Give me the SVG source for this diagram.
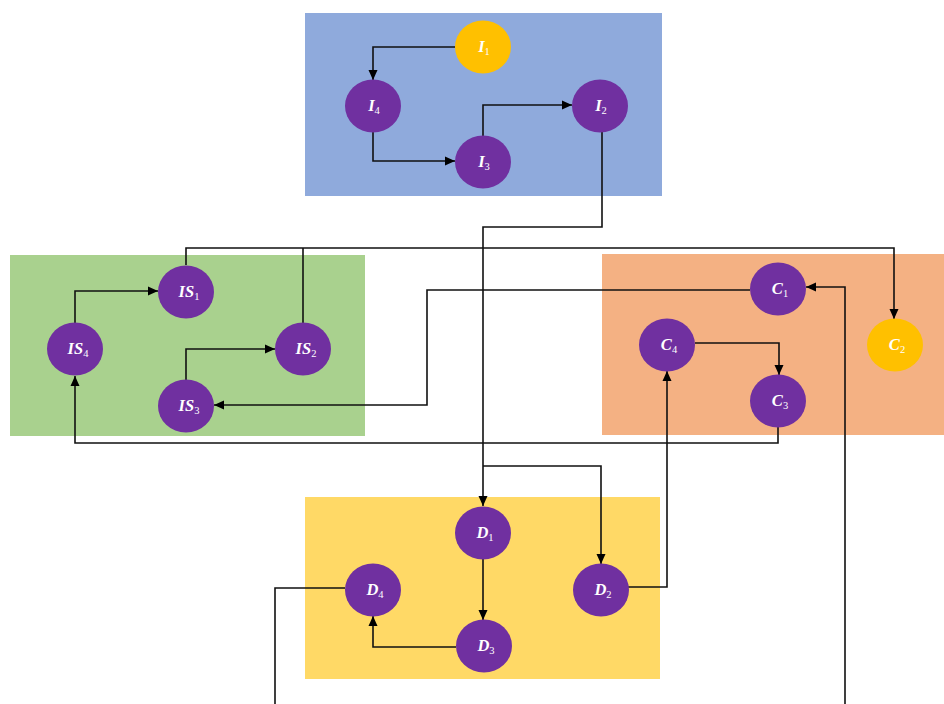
<svg xmlns="http://www.w3.org/2000/svg" width="944" height="704" viewBox="0 0 944 704">
<defs>
<marker id="arr" markerUnits="userSpaceOnUse" markerWidth="10" markerHeight="10" refX="10" refY="5" orient="auto" viewBox="0 0 10 10">
<path d="M0,0.5 L10,5 L0,9.5 z" fill="#000"/>
</marker>
<style>
.n ellipse{fill:#7030A0;}
.n.y ellipse{fill:#FFC000;}
.n text{font-family:"Liberation Serif","DejaVu Serif",serif;font-style:italic;font-weight:bold;font-size:16.5px;fill:#fff;text-anchor:middle;}
.n text tspan.s{font-size:10.5px;font-style:normal;font-weight:normal;}
.c path{fill:none;stroke:#111;stroke-width:1.6;}
.c path.a{marker-end:url(#arr);}
</style>
</defs>
<rect width="944" height="704" fill="#fff"/>
<g id="groups">
<rect x="305" y="13" width="357" height="183" fill="#8FAADC"/>
<rect x="10" y="255" width="355" height="181" fill="#A9D18E"/>
<rect x="602" y="254" width="342" height="181" fill="#F4B183"/>
<rect x="305" y="497" width="355" height="182" fill="#FFD966"/>
</g>
<g id="connectors" class="c">
<path class="a" d="M455,47 H373 V80"/>
<path class="a" d="M373,132 V161 H455"/>
<path class="a" d="M483,136 V105 H572"/>
<path class="a" d="M602,132 V227 H483 V506"/>
<path class="a" d="M483,466 H601 V564"/>
<path class="a" d="M483,559 V620"/>
<path class="a" d="M456,647 H373 V616"/>
<path class="a" d="M345,588 H275 V720 H845 V287 H806"/>
<path class="a" d="M628,587 H667 V371"/>
<path class="a" d="M695,343 H779 V375"/>
<path class="a" d="M778,427 V443 H75 V376"/>
<path class="a" d="M750,290 H427 V405 H214"/>
<path class="a" d="M75,323 V291 H158"/>
<path class="a" d="M186,380 V349 H275"/>
<path class="a" d="M186,265 V248 H894 V319"/>
<path d="M303,323 V248"/>
</g>
<g id="I1" class="n y"><ellipse cx="483" cy="47" rx="28" ry="26.5"/><text x="484" y="52">I<tspan class="s" dy="3">1</tspan></text></g>
<g id="I4" class="n"><ellipse cx="373" cy="106" rx="28" ry="26.5"/><text x="374" y="111">I<tspan class="s" dy="3">4</tspan></text></g>
<g id="I3" class="n"><ellipse cx="483" cy="162" rx="28" ry="26.5"/><text x="484" y="167">I<tspan class="s" dy="3">3</tspan></text></g>
<g id="I2" class="n"><ellipse cx="600" cy="106" rx="28" ry="26.5"/><text x="601" y="111">I<tspan class="s" dy="3">2</tspan></text></g>
<g id="IS1" class="n"><ellipse cx="186" cy="292" rx="28" ry="26.5"/><text x="189" y="297">IS<tspan class="s" dy="3">1</tspan></text></g>
<g id="IS4" class="n"><ellipse cx="75" cy="349" rx="28" ry="26.5"/><text x="78" y="354">IS<tspan class="s" dy="3">4</tspan></text></g>
<g id="IS2" class="n"><ellipse cx="303" cy="349" rx="28" ry="26.5"/><text x="306" y="354">IS<tspan class="s" dy="3">2</tspan></text></g>
<g id="IS3" class="n"><ellipse cx="186" cy="406" rx="28" ry="26.5"/><text x="189" y="411">IS<tspan class="s" dy="3">3</tspan></text></g>
<g id="C1" class="n"><ellipse cx="778" cy="289" rx="28" ry="26.5"/><text x="780" y="294">C<tspan class="s" dy="3">1</tspan></text></g>
<g id="C4" class="n"><ellipse cx="667" cy="345" rx="28" ry="26.5"/><text x="669" y="350">C<tspan class="s" dy="3">4</tspan></text></g>
<g id="C3" class="n"><ellipse cx="778" cy="401" rx="28" ry="26.5"/><text x="780" y="406">C<tspan class="s" dy="3">3</tspan></text></g>
<g id="C2" class="n y"><ellipse cx="895" cy="345" rx="28" ry="26.5"/><text x="897" y="350">C<tspan class="s" dy="3">2</tspan></text></g>
<g id="D1" class="n"><ellipse cx="483" cy="533" rx="28" ry="26.5"/><text x="485" y="538">D<tspan class="s" dy="3">1</tspan></text></g>
<g id="D4" class="n"><ellipse cx="373" cy="590" rx="28" ry="26.5"/><text x="375" y="595">D<tspan class="s" dy="3">4</tspan></text></g>
<g id="D2" class="n"><ellipse cx="601" cy="590" rx="28" ry="26.5"/><text x="603" y="595">D<tspan class="s" dy="3">2</tspan></text></g>
<g id="D3" class="n"><ellipse cx="484" cy="646" rx="28" ry="26.5"/><text x="486" y="651">D<tspan class="s" dy="3">3</tspan></text></g>
</svg>
